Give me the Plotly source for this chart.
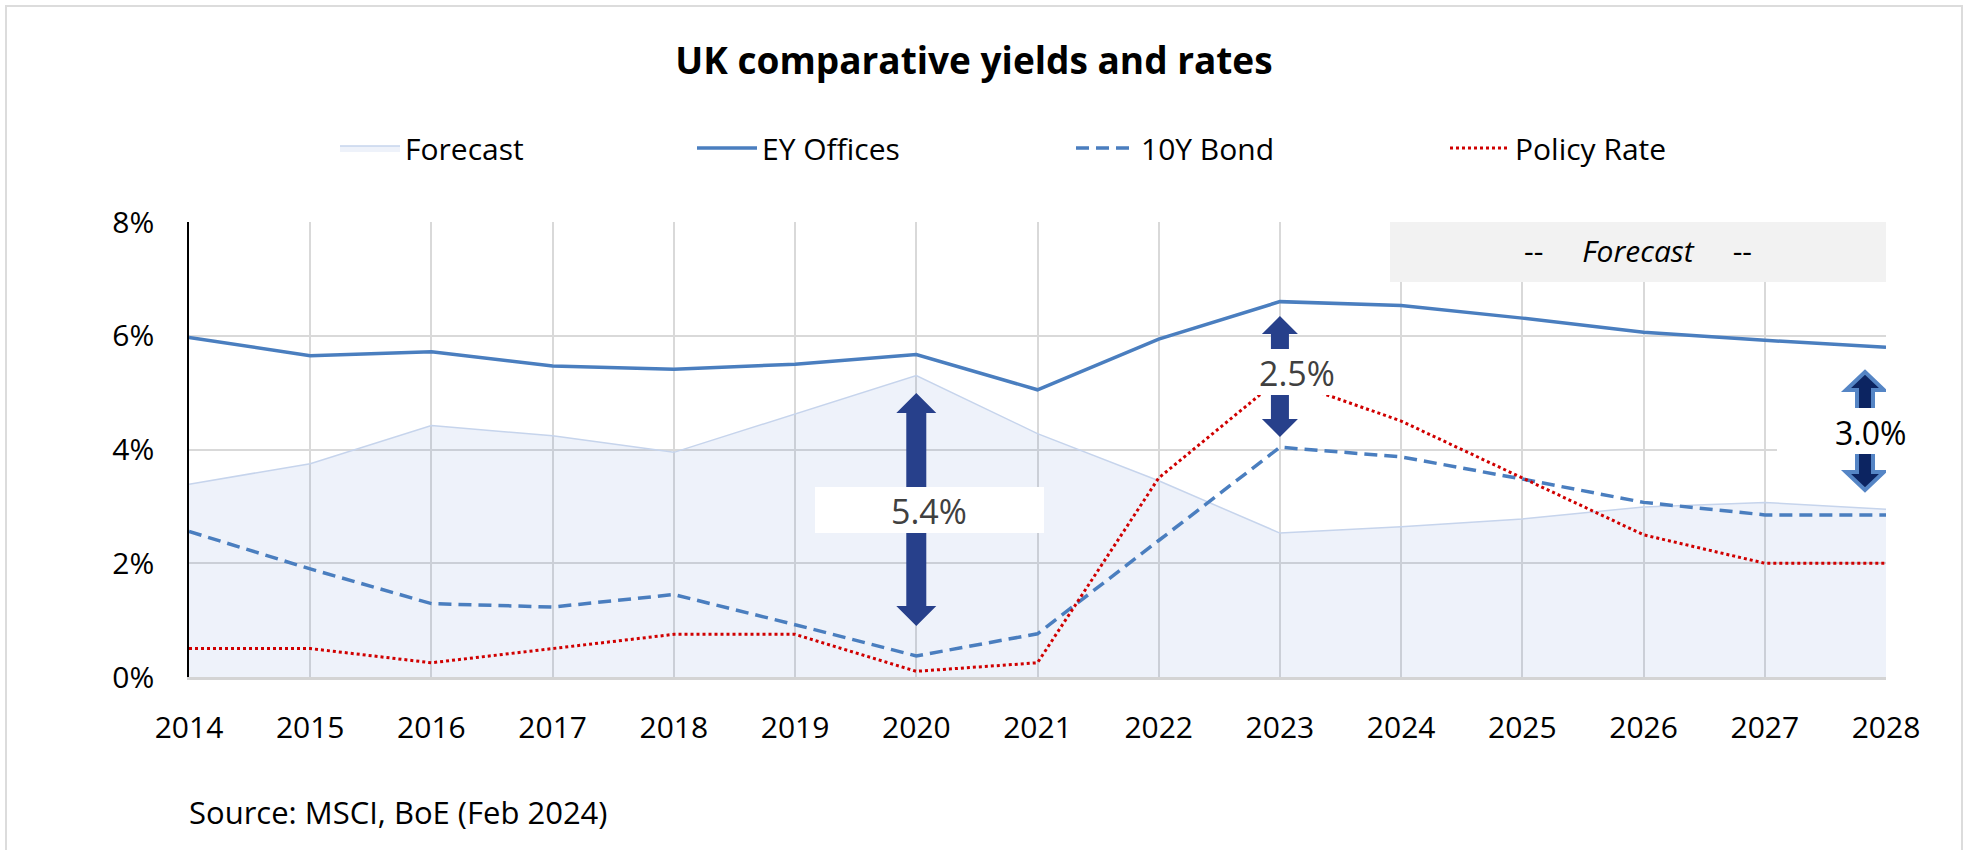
import plotly.graph_objects as go

# ---------------- data ----------------
years = list(range(2014, 2029))
forecast_area = [3.39, 3.75, 4.42, 4.24, 3.95, 4.62, 5.30, 4.28, 3.45, 2.53, 2.64, 2.78, 2.99, 3.07, 2.95]
ey_offices = [5.97, 5.65, 5.72, 5.47, 5.41, 5.50, 5.67, 5.05, 5.94, 6.60, 6.53, 6.31, 6.06, 5.92, 5.80]
bond_10y = [2.56, 1.90, 1.29, 1.23, 1.45, 0.92, 0.37, 0.76, 2.40, 4.04, 3.87, 3.48, 3.07, 2.85, 2.85]
policy_rate = [0.50, 0.50, 0.25, 0.50, 0.75, 0.75, 0.10, 0.25, 3.50, 5.25, 4.50, 3.50, 2.50, 2.00, 2.00]
y_ticks = [0, 2, 4, 6, 8]
y_tick_text = ["0%", "2%", "4%", "6%", "8%"]
spread_labels = ["5.4%", "2.5%", "3.0%"]

# ---------------- layout geometry ----------------
W, H = 1966, 850
ML, MR, MT, MB = 189, 80, 222, 173
PW, PH = W - ML - MR, H - MT - MB
YMAX = 8
PPU = PH / YMAX            # pixels per y unit
PPY = PW / (years[-1] - years[0])  # pixels per year

FONT = "Open Sans, Noto Sans, sans-serif"
BLUE = "#4a7ebf"
NAVY = "#27408b"
NB = "\u00a0"


def yv(px):
    """pixel row -> y value"""
    return (MT + PH - px) / PPU


def xv(px):
    """pixel column -> x value"""
    return years[0] + (px - ML) / PPY


def double_arrow(y_lo, y_hi, head_len, head_half, shaft_half, dx=0.0):
    hl = head_len / PPU
    pts = [(dx, y_hi), (dx + head_half, y_hi - hl), (dx + shaft_half, y_hi - hl),
           (dx + shaft_half, y_lo + hl), (dx + head_half, y_lo + hl), (dx, y_lo),
           (dx - head_half, y_lo + hl), (dx - shaft_half, y_lo + hl),
           (dx - shaft_half, y_hi - hl), (dx - head_half, y_hi - hl)]
    return "M" + " L".join(f"{a:.2f},{b:.4f}" for a, b in pts) + " Z"


fig = go.Figure()
fig.add_trace(go.Scatter(
    x=years, y=forecast_area, name="Forecast", mode="lines", fill="tozeroy",
    line=dict(color="#c6d4ec", width=1.5), fillcolor="rgba(68,114,196,0.09)",
    legendwidth=282))
fig.add_trace(go.Scatter(
    x=years, y=ey_offices, name="EY Offices", mode="lines",
    line=dict(color=BLUE, width=3.5), legendwidth=304))
fig.add_trace(go.Scatter(
    x=years, y=bond_10y, name="10Y Bond", mode="lines",
    line=dict(color=BLUE, width=3.5, dash="13px,7px"), legendwidth=299))
fig.add_trace(go.Scatter(
    x=years, y=policy_rate, name="Policy Rate", mode="lines",
    line=dict(color="#d00000", width=3, dash="dot")))

shapes = []
# forecast header box
shapes.append(dict(type="rect", xref="x", yref="y", x0=xv(1390), x1=years[-1], y0=yv(282), y1=YMAX,
                   fillcolor="#f2f2f2", line=dict(width=0), layer="above"))
# spread arrows
shapes.append(dict(type="path", xref="x", yref="y", xsizemode="pixel", xanchor=2020,
                   path=double_arrow(yv(626), yv(393), 20, 20, 10),
                   fillcolor=NAVY, line=dict(width=0), layer="above"))
shapes.append(dict(type="path", xref="x", yref="y", xsizemode="pixel", xanchor=2023,
                   path=double_arrow(yv(437), yv(316), 18, 18, 9),
                   fillcolor=NAVY, line=dict(width=0), layer="above"))
shapes.append(dict(type="path", xref="x", yref="y", xsizemode="pixel", xanchor=2028,
                   path=double_arrow(yv(490), yv(372), 18, 19, 8, dx=-21),
                   fillcolor="#0c2461", line=dict(width=4, color="#5585c5"), layer="above"))
# white label boxes
shapes.append(dict(type="rect", xref="x", yref="y", x0=xv(815), x1=xv(1044), y0=yv(533), y1=yv(487),
                   fillcolor="white", line=dict(width=0), layer="above"))
shapes.append(dict(type="rect", xref="x", yref="y", x0=xv(1255), x1=xv(1340), y0=yv(395), y1=yv(349),
                   fillcolor="white", line=dict(width=0), layer="above"))
shapes.append(dict(type="rect", xref="x", yref="y", x0=xv(1777), x1=years[-1], y0=yv(454), y1=yv(408),
                   fillcolor="white", line=dict(width=0), layer="above"))
# outer border
shapes.append(dict(type="rect", xref="paper", yref="paper",
                   x0=(6 - ML) / PW, x1=(1962 - ML) / PW, y0=(MT + PH - 900) / PH, y1=(MT + PH - 6) / PH,
                   fillcolor="rgba(0,0,0,0)", line=dict(width=2, color="#dcdcdc"), layer="above"))

annotations = [
    dict(x=xv(928.7), y=yv(511), xref="x", yref="y", text=spread_labels[0], showarrow=False,
         font=dict(family=FONT, size=34, color="#404040")),
    dict(x=xv(1297), y=yv(373), xref="x", yref="y", text=spread_labels[1], showarrow=False,
         font=dict(family=FONT, size=34, color="#404040")),
    dict(x=xv(1870), y=yv(432), xref="x", yref="y", text=spread_labels[2], showarrow=False,
         font=dict(family=FONT, size=32, color="#000000")),
    dict(x=xv(1637.5), y=yv(250), xref="x", yref="y",
         text="--" + NB * 5 + "<i>Forecast</i>" + NB * 5 + "--", showarrow=False,
         font=dict(family=FONT, size=30, color="#000000")),
    dict(x=(187 - ML) / PW, y=(MT + PH - 812) / PH, xref="paper", yref="paper", xanchor="left",
         yanchor="middle", text="Source: MSCI, BoE (Feb 2024)", showarrow=False,
         font=dict(family=FONT, size=31, color="#000000")),
]

fig.update_layout(
    width=W, height=H,
    margin=dict(l=ML, r=MR, t=MT, b=MB, autoexpand=False),
    paper_bgcolor="white", plot_bgcolor="white",
    font=dict(family=FONT, size=30, color="#000000"),
    title=dict(text="UK comparative yields and rates", x=974 / W, xref="container", xanchor="center",
               y=1 - 61 / H, yref="container", yanchor="middle",
               font=dict(family=FONT, size=37, color="#000000", weight=700)),
    legend=dict(orientation="h", x=(335 - ML) / PW, xanchor="left", y=(MT + PH - 148) / PH,
                yanchor="middle", itemwidth=60, font=dict(family=FONT, size=30, color="#000000"),
                bgcolor="rgba(0,0,0,0)", traceorder="normal"),
    xaxis=dict(range=[years[0], years[-1]], tickvals=years, ticktext=[str(y) for y in years],
               showgrid=True, gridcolor="#d9d9d9", gridwidth=2, zeroline=False,
               showline=True, linecolor="#d4d4d4", linewidth=3, ticks="", ticklabelstandoff=22,
               tickfont=dict(family=FONT, size=30, color="#000000"), fixedrange=True),
    yaxis=dict(range=[0, YMAX], tickvals=y_ticks, ticktext=y_tick_text,
               showgrid=True, gridcolor="#d9d9d9", gridwidth=2, zeroline=False,
               showline=True, linecolor="#000000", linewidth=1.5, ticks="", ticklabelstandoff=27,
               tickfont=dict(family=FONT, size=30, color="#000000"), fixedrange=True),
    shapes=shapes,
    annotations=annotations,
    showlegend=True,
)

fig.write_html("out.html")
